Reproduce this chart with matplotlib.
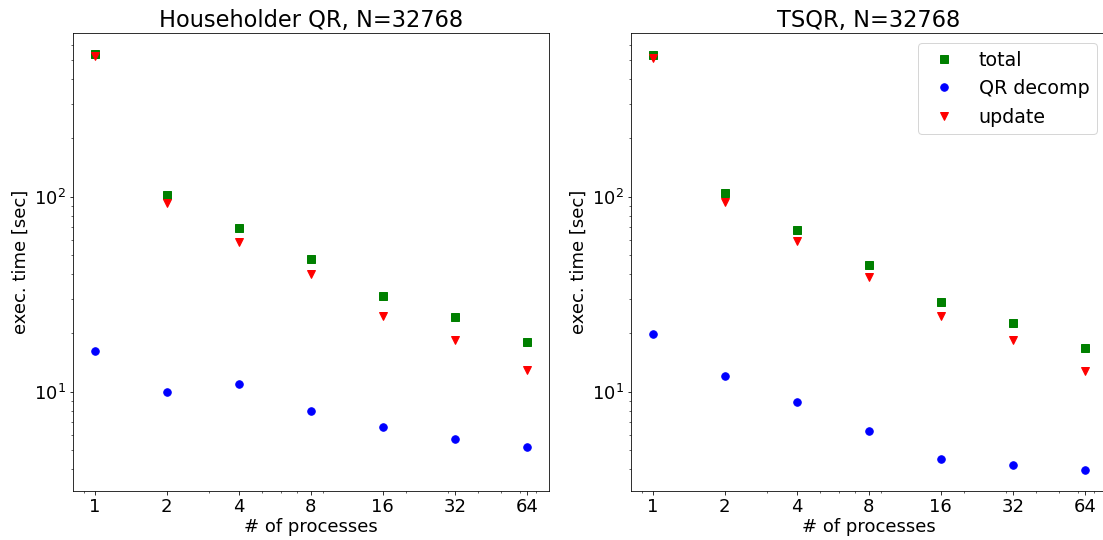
import numpy as np
import matplotlib
matplotlib.use("Agg")
import matplotlib.pyplot as plt

# number of processes
procs = [1, 2, 4, 8, 16, 32, 64]
proc_labels = ["1", "2", "4", "8", "16", "32", "64"]

# Householder QR timings [sec]
hh_total = [538, 101.6, 69.2, 48.0, 31.1, 24.2, 18.0]
hh_qr = [16.2, 10.0, 11.0, 7.95, 6.6, 5.75, 5.2]
hh_update = [527, 93.0, 58.3, 40.1, 24.6, 18.5, 12.9]

# TSQR timings [sec]
ts_total = [533, 105, 67.8, 44.7, 28.9, 22.5, 16.7]
ts_qr = [19.9, 12.05, 8.85, 6.3, 4.5, 4.22, 3.96]
ts_update = [516, 93.7, 59.6, 38.9, 24.6, 18.5, 12.8]

titles = ["Householder QR, N=32768", "TSQR, N=32768"]
series = [(hh_total, hh_qr, hh_update), (ts_total, ts_qr, ts_update)]

fig, axes = plt.subplots(1, 2, figsize=(1103 / 72, 540 / 72), dpi=72, sharey=True)
fig.subplots_adjust(left=0.0662, right=1.0032, bottom=0.0907, top=0.938, wspace=0.1735)

ms = 7.5
for ax, title, (total, qr, update) in zip(axes, titles, series):
    ax.plot(procs, total, "s", color="green", ms=ms, label="total")
    ax.plot(procs, qr, "o", color="blue", ms=ms, label="QR decomp")
    ax.plot(procs, update, "v", color="red", ms=ms, label="update")
    ax.set_xscale("log")
    ax.set_yscale("log")
    ax.set_xticks(procs)
    ax.set_xticklabels(proc_labels)
    ax.tick_params(labelsize=18, labelleft=True)
    ax.set_xlabel("# of processes", fontsize=18, labelpad=2)
    ax.set_ylabel("exec. time [sec]", fontsize=18)
    ax.set_title(title, fontsize=22.5)

axes[1].legend(loc="upper right", fontsize=19)

fig.savefig("out.png", dpi=72)
